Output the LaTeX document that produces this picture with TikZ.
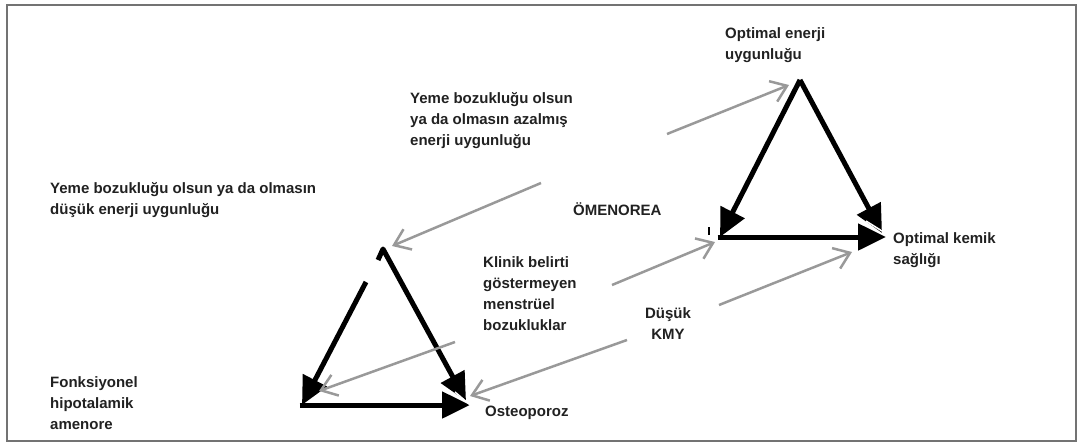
\documentclass[tikz,border=0pt]{standalone}
\usepackage{fontspec}
\setmainfont{Liberation Sans}
\usetikzlibrary{arrows.meta}
\definecolor{txtc}{rgb}{0.13,0.13,0.13}
\definecolor{grayarr}{rgb}{0.6,0.6,0.6}
\definecolor{framec}{rgb}{0.45,0.45,0.45}
\begin{document}
\begin{tikzpicture}[x=1pt,y=-1pt,
  lbl/.style={font=\fontsize{15}{21.3}\selectfont\bfseries, text=txtc, inner sep=0pt, align=left, anchor=north west},
  blk/.style={draw=black, line width=5pt, -{Triangle[length=28pt,width=26pt]}},
  gry/.style={draw=grayarr, line width=2.5pt, -{Straight Barb[length=15pt,width=22pt,line width=2.5pt]}}]
\useasboundingbox (0,0) rectangle (1078,445);
\draw[framec, line width=1.5pt] (7,5) rectangle (1076,441);

% text nodes
\node[lbl] (ttop) at (410,92) {Yeme bozukluğu olsun\\ya da olmasın azalmış\\enerji uygunluğu};
\node[lbl] (tlow) at (50,182) {Yeme bozukluğu olsun ya da olmasın\\düşük enerji uygunluğu};
\node[lbl] (topt) at (725,27) {Optimal enerji\\uygunluğu};
\node[lbl] (tomen) at (573,202) {ÖMENOREA};
\node[lbl] (tklin) at (483,256) {Klinik belirti\\göstermeyen\\menstrüel\\bozukluklar};
\node[lbl] (tkemik) at (893,232) {Optimal kemik\\sağlığı};
\node[lbl, align=center, anchor=north] (tkmy) at (668,307) {Düşük\\KMY};
\node[lbl] (tfonk) at (50,376) {Fonksiyonel\\hipotalamik\\amenore};
\node[lbl] (tost) at (485,406) {Osteoporoz};

% triangle 1 corners
\coordinate (aA) at (383,249);
\coordinate (aAhook) at (378,260);
\coordinate (aAgap) at (366,282);
\coordinate (aL) at (302,405);
\coordinate (aR) at (470,405);
\coordinate (aRs) at (466,401);
% triangle 2 corners
\coordinate (bA) at (800,80);
\coordinate (bL) at (720,237);
\coordinate (bR) at (886,237);
\coordinate (bRs) at (882,233);

% black arrows triangle 1
\draw[blk] (aAgap) -- (aL);
\draw[blk, line join=round] (aAhook) -- (aA) -- (aRs);
\draw[blk] ([xshift=-2.5pt]aL) -- (aR);
\draw[white, line width=1.5pt] (455,392) -- (475,409);
% black arrows triangle 2
\draw[blk] (bA) -- (bL);
\draw[blk] (bA) -- (bRs);
\draw[blk] ([xshift=-2.5pt]bL) -- (bR);
\draw[white, line width=1.5pt] (866,221) -- (890,236);
\draw[black, line width=1.5pt] (709,227) -- (709,235);

% gray arrows
\coordinate (g1s) at (667,134);
\coordinate (g1e) at (789,85);
\coordinate (g2s) at (541,183);
\coordinate (g2e) at (392,246);
\coordinate (g3s) at (455,342);
\coordinate (g3e) at (319,391);
\coordinate (g4s) at (627,340);
\coordinate (g4e) at (470,396);
\coordinate (g5s) at (612,285);
\coordinate (g5e) at (715,242);
\coordinate (g6s) at (719,305);
\coordinate (g6e) at (852,252);
\draw[gry] (g1s) -- (g1e);
\draw[gry] (g2s) -- (g2e);
\draw[gry] (g3s) -- (g3e);
\draw[gry] (g4s) -- (g4e);
\draw[gry] (g5s) -- (g5e);
\draw[gry] (g6s) -- (g6e);
\end{tikzpicture}
\end{document}
